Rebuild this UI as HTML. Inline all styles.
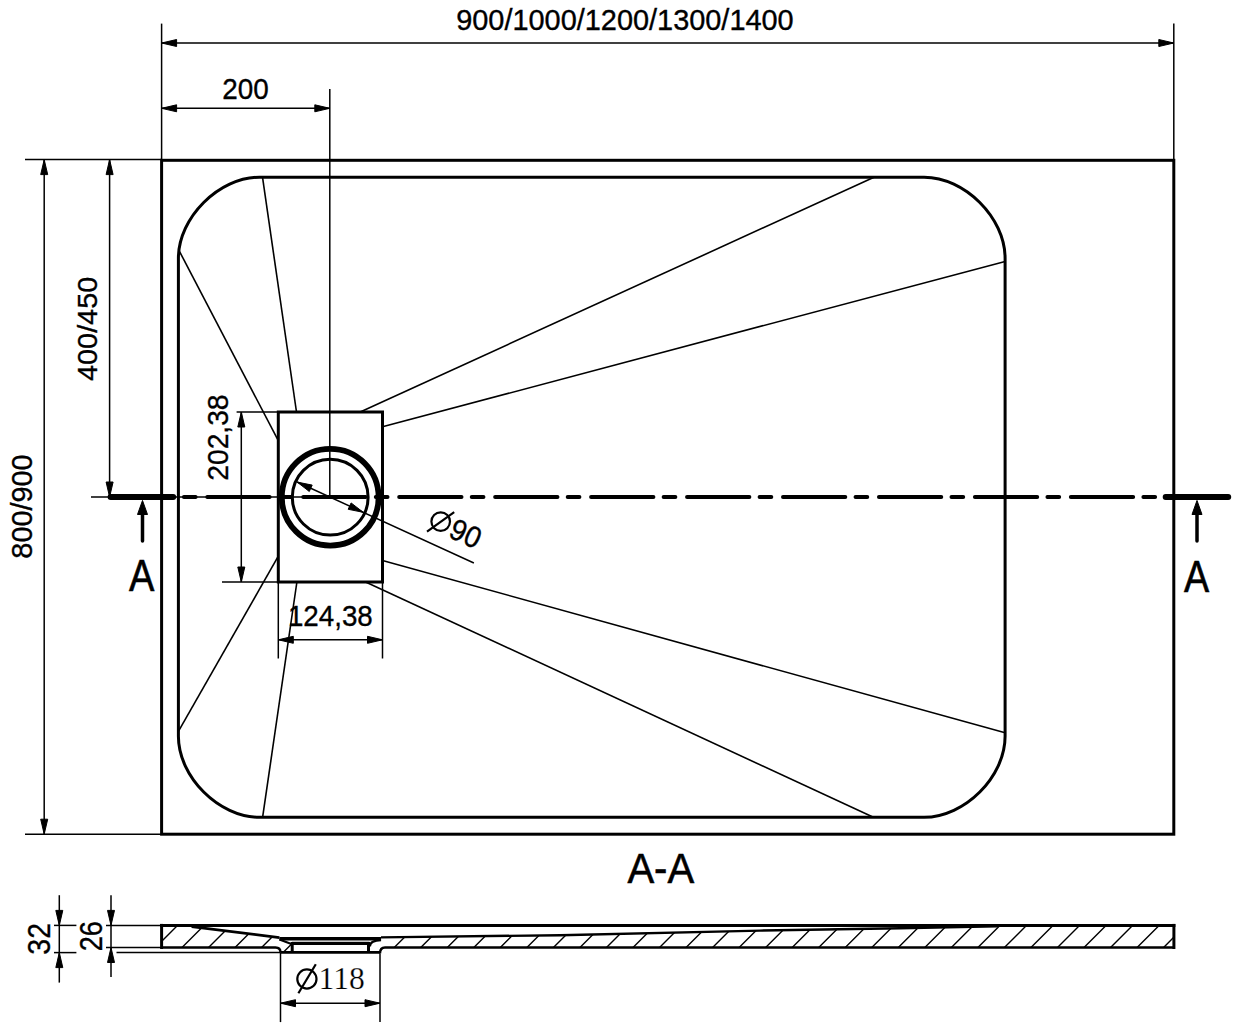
<!DOCTYPE html>
<html><head><meta charset="utf-8"><style>
html,body{margin:0;padding:0;background:#fff;}
svg{display:block;}
</style></head><body>
<svg width="1235" height="1029" viewBox="0 0 1235 1029" stroke="#000" fill="#000">
<rect x="0" y="0" width="1235" height="1029" fill="#fff" stroke="none"/>
<g>
<line x1="161.60" y1="23.60" x2="161.60" y2="160.30" stroke-width="1.5" stroke-linecap="butt"/>
<line x1="1173.80" y1="23.60" x2="1173.80" y2="160.30" stroke-width="1.5" stroke-linecap="butt"/>
<line x1="161.60" y1="43.00" x2="1173.80" y2="43.00" stroke-width="1.5" stroke-linecap="butt"/>
<polygon points="161.60,43.00 176.60,39.50 176.60,46.50"/>
<polygon points="1173.80,43.00 1158.80,46.50 1158.80,39.50"/>
<line x1="161.60" y1="108.30" x2="329.80" y2="108.30" stroke-width="1.5" stroke-linecap="butt"/>
<polygon points="161.60,108.30 176.60,104.80 176.60,111.80"/>
<polygon points="329.80,108.30 314.80,111.80 314.80,104.80"/>
<line x1="329.80" y1="89.00" x2="329.80" y2="497.20" stroke-width="1.5" stroke-linecap="butt"/>
<line x1="25.00" y1="159.60" x2="161.60" y2="159.60" stroke-width="1.5" stroke-linecap="butt"/>
<line x1="25.00" y1="834.20" x2="161.60" y2="834.20" stroke-width="1.5" stroke-linecap="butt"/>
<line x1="44.20" y1="159.60" x2="44.20" y2="834.20" stroke-width="1.5" stroke-linecap="butt"/>
<polygon points="44.20,159.60 47.70,174.60 40.70,174.60"/>
<polygon points="44.20,834.20 40.70,819.20 47.70,819.20"/>
<line x1="109.60" y1="159.60" x2="109.60" y2="497.00" stroke-width="1.5" stroke-linecap="butt"/>
<polygon points="109.60,159.60 113.10,174.60 106.10,174.60"/>
<polygon points="109.60,497.00 106.10,482.00 113.10,482.00"/>
<line x1="91.00" y1="497.00" x2="330.20" y2="497.00" stroke-width="1.5" stroke-linecap="butt"/>
<rect x="161.6" y="160.3" width="1012.20" height="673.90" fill="none" stroke-width="3.0"/>
<path d="M259.4,177.2 H924.1 C964.6,177.2 1005.1,217.7 1005.1,258.2 V736.3 C1005.1,776.8 964.6,817.3 924.1,817.3 H259.4 C218.89999999999998,817.3 178.4,776.8 178.4,736.3 V258.2 C178.4,217.7 218.89999999999998,177.2 259.4,177.2 Z" fill="none" stroke-width="3.0"/>
<line x1="262.50" y1="177.20" x2="296.50" y2="412.00" stroke-width="1.6" stroke-linecap="butt"/>
<line x1="179.60" y1="251.60" x2="278.30" y2="440.70" stroke-width="1.6" stroke-linecap="butt"/>
<line x1="874.00" y1="177.20" x2="360.20" y2="412.00" stroke-width="1.6" stroke-linecap="butt"/>
<line x1="1005.10" y1="261.40" x2="382.50" y2="426.80" stroke-width="1.6" stroke-linecap="butt"/>
<line x1="1005.10" y1="732.80" x2="382.50" y2="560.50" stroke-width="1.6" stroke-linecap="butt"/>
<line x1="873.40" y1="817.30" x2="365.60" y2="582.00" stroke-width="1.6" stroke-linecap="butt"/>
<line x1="262.60" y1="817.30" x2="296.90" y2="582.00" stroke-width="1.6" stroke-linecap="butt"/>
<line x1="178.40" y1="731.40" x2="278.30" y2="556.20" stroke-width="1.6" stroke-linecap="butt"/>
<rect x="278.3" y="412.0" width="104.20" height="170.00" fill="none" stroke-width="3"/>
<circle cx="330.2" cy="497.2" r="48.4" fill="none" stroke-width="5.8"/>
<circle cx="330.2" cy="497.2" r="37.9" fill="none" stroke-width="3"/>
<line x1="110.60" y1="497.00" x2="173.20" y2="497.00" stroke-width="6" stroke-linecap="round"/>
<line x1="1165.70" y1="497.00" x2="1228.20" y2="497.00" stroke-width="6" stroke-linecap="round"/>
<path d="M183.90,497.0H195.60M207.30,497.0H269.60M279.85,497.0H291.55M303.25,497.0H365.55M375.80,497.0H387.50M399.20,497.0H461.50M471.75,497.0H483.45M495.15,497.0H557.45M567.70,497.0H579.40M591.10,497.0H653.40M663.65,497.0H675.35M687.05,497.0H749.35M759.60,497.0H771.30M783.00,497.0H845.30M855.55,497.0H867.25M878.95,497.0H941.25M951.50,497.0H963.20M974.90,497.0H1037.20M1047.45,497.0H1059.15M1070.85,497.0H1133.15M1143.40,497.0H1155.10" stroke-width="4" stroke-linecap="round" fill="none"/>
<line x1="142.50" y1="512.00" x2="142.50" y2="541.00" stroke-width="3.5" stroke-linecap="round"/>
<polygon points="142.50,500.50 147.50,514.50 137.50,514.50"/>
<line x1="1197.00" y1="512.00" x2="1197.00" y2="541.00" stroke-width="3.5" stroke-linecap="round"/>
<polygon points="1197.00,500.50 1202.00,514.50 1192.00,514.50"/>
<line x1="236.60" y1="412.00" x2="278.30" y2="412.00" stroke-width="1.5" stroke-linecap="butt"/>
<line x1="222.00" y1="582.00" x2="278.30" y2="582.00" stroke-width="1.5" stroke-linecap="butt"/>
<line x1="241.30" y1="412.00" x2="241.30" y2="582.00" stroke-width="1.5" stroke-linecap="butt"/>
<polygon points="241.30,412.00 244.80,427.00 237.80,427.00"/>
<polygon points="241.30,582.00 237.80,567.00 244.80,567.00"/>
<line x1="278.30" y1="582.00" x2="278.30" y2="658.50" stroke-width="1.5" stroke-linecap="butt"/>
<line x1="382.50" y1="582.00" x2="382.50" y2="658.50" stroke-width="1.5" stroke-linecap="butt"/>
<line x1="278.30" y1="639.80" x2="382.50" y2="639.80" stroke-width="1.5" stroke-linecap="butt"/>
<polygon points="278.30,639.80 293.30,636.30 293.30,643.30"/>
<polygon points="382.50,639.80 367.50,643.30 367.50,636.30"/>
<line x1="297.10" y1="482.05" x2="473.86" y2="562.97" stroke-width="1.5" stroke-linecap="butt"/>
<polygon points="297.10,482.05 312.20,485.11 309.29,491.47"/>
<polygon points="363.30,512.35 348.20,509.29 351.11,502.93"/>
<circle cx="440.7" cy="521.6" r="9.3" fill="none" stroke-width="2.2"/>
<line x1="427.00" y1="531.60" x2="454.20" y2="512.10" stroke-width="2.2" stroke-linecap="butt"/>
<clipPath id="hc"><polygon points="161.6,925.4 191.6,926.6 279.4,937.6 291,943.5 291,952.4 280.5,952.4 275.5,947.5 161.6,947.5"/><polygon points="369,946 381,940 381,937.5 560,935.2 760,930.4 900,928 997,926 1173.9,925.4 1173.9,947.5 385,947.5 380,952.5 369,952.5"/></clipPath>
<path d="M122.94,953.50L158.94,917.50M149.47,953.50L185.47,917.50M176.00,953.50L212.00,917.50M202.53,953.50L238.53,917.50M229.06,953.50L265.06,917.50M255.59,953.50L291.59,917.50M282.12,953.50L318.12,917.50M308.65,953.50L344.65,917.50M335.18,953.50L371.18,917.50M361.71,953.50L397.71,917.50M388.24,953.50L424.24,917.50M414.77,953.50L450.77,917.50M441.30,953.50L477.30,917.50M467.83,953.50L503.83,917.50M494.36,953.50L530.36,917.50M520.89,953.50L556.89,917.50M547.42,953.50L583.42,917.50M573.95,953.50L609.95,917.50M600.48,953.50L636.48,917.50M627.01,953.50L663.01,917.50M653.54,953.50L689.54,917.50M680.07,953.50L716.07,917.50M706.60,953.50L742.60,917.50M733.13,953.50L769.13,917.50M759.66,953.50L795.66,917.50M786.19,953.50L822.19,917.50M812.72,953.50L848.72,917.50M839.25,953.50L875.25,917.50M865.78,953.50L901.78,917.50M892.31,953.50L928.31,917.50M918.84,953.50L954.84,917.50M945.37,953.50L981.37,917.50M971.90,953.50L1007.90,917.50M998.43,953.50L1034.43,917.50M1024.96,953.50L1060.96,917.50M1051.49,953.50L1087.49,917.50M1078.02,953.50L1114.02,917.50M1104.55,953.50L1140.55,917.50M1131.08,953.50L1167.08,917.50M1157.61,953.50L1193.61,917.50M1184.14,953.50L1220.14,917.50M1210.67,953.50L1246.67,917.50" stroke-width="1.4" fill="none" clip-path="url(#hc)"/>
<line x1="161.60" y1="925.40" x2="1173.90" y2="925.40" stroke-width="3" stroke-linecap="square"/>
<line x1="161.60" y1="925.40" x2="161.60" y2="947.50" stroke-width="3" stroke-linecap="square"/>
<line x1="1173.90" y1="925.40" x2="1173.90" y2="947.50" stroke-width="3" stroke-linecap="square"/>
<path d="M161.6,947.5 L275.5,947.5 Q280.5,947.5 280.5,952.4" fill="none" stroke-width="2.4"/>
<path d="M1173.9,947.5 L385,947.5 Q380,947.5 380,953.4" fill="none" stroke-width="2.4"/>
<line x1="116.50" y1="952.40" x2="280.50" y2="952.40" stroke-width="1.5" stroke-linecap="butt"/>
<line x1="280.50" y1="952.40" x2="380.00" y2="952.40" stroke-width="2.6" stroke-linecap="butt"/>
<path d="M191.6,926.6 L279.4,937.6" fill="none" stroke-width="2.6"/>
<path d="M279.4,938.7 L381,938.7" fill="none" stroke-width="3.6"/>
<path d="M381,937.4 L560,935.2 L760,930.6 L900,928.2 L997,926.2" fill="none" stroke-width="2.4"/>
<path d="M279.4,939.5 L291.4,944" fill="none" stroke-width="2"/>
<path d="M292.2,952.4 V943.4 H368.5 V952.4" fill="none" stroke-width="3"/>
<line x1="292" y1="941.4" x2="369.4" y2="941.4" stroke="#aaa" stroke-width="0.7"/>
<path d="M369.9,946.5 Q369.9,940.4 381.1,940.2" fill="none" stroke-width="2.2"/>
<line x1="54.00" y1="925.40" x2="76.40" y2="925.40" stroke-width="1.5" stroke-linecap="butt"/>
<line x1="54.00" y1="952.60" x2="76.40" y2="952.60" stroke-width="1.5" stroke-linecap="butt"/>
<line x1="59.30" y1="895.20" x2="59.30" y2="982.60" stroke-width="1.5" stroke-linecap="butt"/>
<polygon points="59.30,925.40 55.80,910.40 62.80,910.40"/>
<polygon points="59.30,952.60 62.80,967.60 55.80,967.60"/>
<line x1="106.00" y1="925.40" x2="161.60" y2="925.40" stroke-width="1.5" stroke-linecap="butt"/>
<line x1="106.00" y1="947.50" x2="161.60" y2="947.50" stroke-width="1.5" stroke-linecap="butt"/>
<line x1="111.00" y1="895.20" x2="111.00" y2="977.00" stroke-width="1.5" stroke-linecap="butt"/>
<polygon points="111.00,925.40 107.50,910.40 114.50,910.40"/>
<polygon points="111.00,947.50 114.50,962.50 107.50,962.50"/>
<line x1="280.50" y1="952.40" x2="280.50" y2="1022.10" stroke-width="1.5" stroke-linecap="butt"/>
<line x1="380.00" y1="953.40" x2="380.00" y2="1022.10" stroke-width="1.5" stroke-linecap="butt"/>
<line x1="280.50" y1="1003.20" x2="380.00" y2="1003.20" stroke-width="1.5" stroke-linecap="butt"/>
<polygon points="280.50,1003.20 295.50,999.70 295.50,1006.70"/>
<polygon points="380.00,1003.20 365.00,1006.70 365.00,999.70"/>
<circle cx="306.9" cy="979" r="9.6" fill="none" stroke-width="2.2"/>
<line x1="298.40" y1="993.20" x2="315.80" y2="964.20" stroke-width="2.2" stroke-linecap="butt"/>
<text x="624.94" y="30.30" font-size="28.81" font-family="Liberation Sans" text-anchor="middle" stroke="#000" stroke-width="0.35" textLength="337.49" lengthAdjust="spacingAndGlyphs">900/1000/1200/1300/1400</text>
<text x="245.56" y="98.50" font-size="29.77" font-family="Liberation Sans" text-anchor="middle" stroke="#000" stroke-width="0.35" textLength="46.49" lengthAdjust="spacingAndGlyphs">200</text>
<text x="31.74" y="506.56" font-size="29.72" font-family="Liberation Sans" text-anchor="middle" stroke="#000" stroke-width="0.35" textLength="104.14" lengthAdjust="spacingAndGlyphs" transform="rotate(-90 31.74 506.56)">800/900</text>
<text x="97.36" y="328.86" font-size="28.29" font-family="Liberation Sans" text-anchor="middle" stroke="#000" stroke-width="0.35" textLength="104.07" lengthAdjust="spacingAndGlyphs" transform="rotate(-90 97.36 328.86)">400/450</text>
<text x="141.59" y="591.40" font-size="43.5" font-family="Liberation Sans" text-anchor="middle" stroke="#000" stroke-width="0.6" textLength="25.39" lengthAdjust="spacingAndGlyphs">A</text>
<text x="1196.58" y="591.80" font-size="43.5" font-family="Liberation Sans" text-anchor="middle" stroke="#000" stroke-width="0.6" textLength="25.17" lengthAdjust="spacingAndGlyphs">A</text>
<text x="227.76" y="437.60" font-size="29.64" font-family="Liberation Sans" text-anchor="middle" stroke="#000" stroke-width="0.35" textLength="86.27" lengthAdjust="spacingAndGlyphs" transform="rotate(-90 227.76 437.60)">202,38</text>
<text x="330.34" y="626.19" font-size="30.34" font-family="Liberation Sans" text-anchor="middle" stroke="#000" stroke-width="0.35" textLength="84.85" lengthAdjust="spacingAndGlyphs">124,38</text>
<text x="447.30" y="536.50" font-size="30" font-family="Liberation Sans" text-anchor="start" stroke="#000" stroke-width="0.35" textLength="31" lengthAdjust="spacingAndGlyphs" transform="rotate(24.6 447.30 536.50)">90</text>
<text x="660.78" y="883.00" font-size="43.25" font-family="Liberation Sans" text-anchor="middle" stroke="#000" stroke-width="0.6" textLength="66.76" lengthAdjust="spacingAndGlyphs">A-A</text>
<text x="49.80" y="938.85" font-size="31.63" font-family="Liberation Sans" text-anchor="middle" stroke="#000" stroke-width="0.35" textLength="31.54" lengthAdjust="spacingAndGlyphs" transform="rotate(-90 49.80 938.85)">32</text>
<text x="101.70" y="936.24" font-size="31.94" font-family="Liberation Sans" text-anchor="middle" stroke="#000" stroke-width="0.35" textLength="30.21" lengthAdjust="spacingAndGlyphs" transform="rotate(-90 101.70 936.24)">26</text>
<text x="318.57" y="989.00" font-size="31.76" font-family="Liberation Serif" text-anchor="start" stroke="#fff" stroke-width="0.25" textLength="46.24" lengthAdjust="spacingAndGlyphs">118</text>
</g>
</svg>
</body></html>
